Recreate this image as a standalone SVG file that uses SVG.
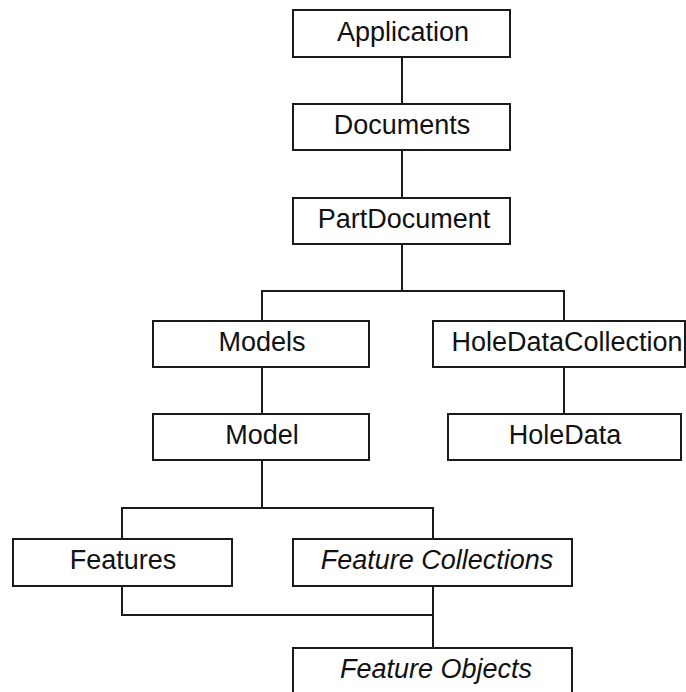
<svg xmlns="http://www.w3.org/2000/svg" width="686" height="692" viewBox="0 0 686 692">
  <style>
    .box { fill: #ffffff; stroke: #1a1a1a; stroke-width: 2; }
    .wire { fill: none; stroke: #1a1a1a; stroke-width: 2; }
    .label { font-family: "Liberation Sans", Arial, sans-serif; font-size: 27px; fill: #111111; text-anchor: middle; }
    .abstract { font-style: italic; }
  </style>
  <rect x="0" y="0" width="686" height="692" fill="#ffffff"/>

  <!-- connectors -->
  <g id="connectors">
    <line class="wire" x1="402" y1="57" x2="402" y2="104"/>
    <line class="wire" x1="402" y1="150" x2="402" y2="198"/>
    <path class="wire" d="M402 244 V291 M262 321 V291 H564 V321"/>
    <line class="wire" x1="262" y1="367" x2="262" y2="414"/>
    <line class="wire" x1="564" y1="367" x2="564" y2="414"/>
    <path class="wire" d="M262 460 V508 M122 539 V508 H433 V539"/>
    <path class="wire" d="M122 586 V615 H433 M433 586 V648"/>
  </g>

  <g id="application">
    <rect class="box" x="293" y="10" width="217" height="47"/>
    <text class="label" x="403" y="41">Application</text>
  </g>
  <g id="documents">
    <rect class="box" x="293" y="104" width="217" height="46"/>
    <text class="label" x="402" y="134">Documents</text>
  </g>
  <g id="partdocument">
    <rect class="box" x="293" y="198" width="217" height="46"/>
    <text class="label" x="404" y="228">PartDocument</text>
  </g>
  <g id="models">
    <rect class="box" x="153" y="321" width="216" height="46"/>
    <text class="label" x="262" y="351">Models</text>
  </g>
  <g id="holedatacollection">
    <rect class="box" x="433" y="321" width="252" height="46"/>
    <text class="label" x="567" y="351">HoleDataCollection</text>
  </g>
  <g id="model">
    <rect class="box" x="153" y="414" width="216" height="46"/>
    <text class="label" x="262" y="444">Model</text>
  </g>
  <g id="holedata">
    <rect class="box" x="448" y="414" width="233" height="46"/>
    <text class="label" x="565" y="444">HoleData</text>
  </g>
  <g id="features">
    <rect class="box" x="13" y="539" width="219" height="47"/>
    <text class="label" x="123" y="569">Features</text>
  </g>
  <g id="feature-collections">
    <rect class="box" x="293" y="539" width="279" height="47"/>
    <text class="label abstract" x="437" y="569">Feature Collections</text>
  </g>
  <g id="feature-objects">
    <rect class="box" x="293" y="648" width="279" height="60"/>
    <text class="label abstract" x="436" y="678">Feature Objects</text>
  </g>
</svg>
